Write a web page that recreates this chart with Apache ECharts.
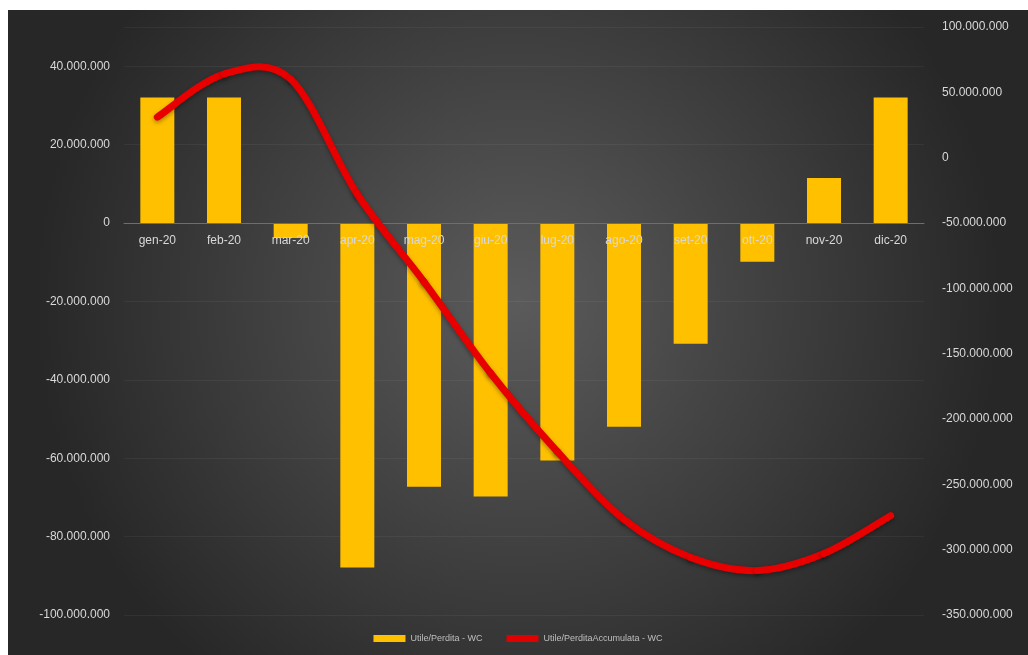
<!DOCTYPE html>
<html>
<head>
<meta charset="utf-8">
<script src="https://cdn.jsdelivr.net/npm/echarts@6/dist/echarts.min.js"></script>
<style>
html,body{margin:0;padding:0;background:#fff;}
#chart{position:absolute;left:8px;top:10px;width:1020px;height:645px;}
</style>
</head>
<body>
<div id="chart"></div>
<script>
var mesi = ['gen-20','feb-20','mar-20','apr-20','mag-20','giu-20','lug-20','ago-20','set-20','ott-20','nov-20','dic-20'];
// Utile/Perdita - WC
var utilePerdita = [32000000, 32000000, -3800000, -87900000, -67300000, -69800000, -60600000, -52000000, -30800000, -9900000, 11500000, 32000000];
// Utile/PerditaAccumulata - WC
var utileAccumulata = [31000000, 64000000, 60000000, -28000000, -95000000, -165000000, -225000000, -277000000, -306000000, -316000000, -303000000, -274000000];

function fmt(v){
    var s = Math.abs(v).toString().replace(/\B(?=(\d{3})+(?!\d))/g, '.');
    return (v < 0 ? '-' : '') + s;
}

// linea smussata stile Excel (Catmull-Rom), punti presi dagli assi
function renderCurva(params, api){
    var i = params.dataIndex;
    var n = utileAccumulata.length;
    if (i >= n - 1) return null;
    var p = function(k){
        k = Math.max(0, Math.min(n - 1, k));
        return api.coord([k, utileAccumulata[k]]);
    };
    var p0 = p(i - 1), p1 = p(i), p2 = p(i + 1), p3 = p(i + 2);
    var t = 6;
    return {
        type: 'bezierCurve',
        shape: {
            x1: p1[0], y1: p1[1],
            x2: p2[0], y2: p2[1],
            cpx1: p1[0] + (p2[0] - p0[0]) / t, cpy1: p1[1] + (p2[1] - p0[1]) / t,
            cpx2: p2[0] - (p3[0] - p1[0]) / t, cpy2: p2[1] - (p3[1] - p1[1]) / t
        },
        style: {
            fill: null,
            stroke: '#e80000',
            lineWidth: 7,
            lineCap: 'round',
            shadowColor: 'rgba(0,0,0,0.35)',
            shadowBlur: 4,
            shadowOffsetY: 2
        }
    };
}

var myChart = echarts.init(document.getElementById('chart'));
var option = {
    backgroundColor: {
        type: 'radial', x: 0.5, y: 0.45, r: 0.75,
        colorStops: [
            {offset: 0, color: '#5b5b5b'},
            {offset: 1, color: '#272727'}
        ]
    },
    textStyle: {fontFamily: 'Liberation Sans, Arial, sans-serif'},
    grid: {left: 116, right: 104, top: 17, bottom: 40},
    legend: {
        bottom: 7,
        left: 'center',
        itemWidth: 32,
        itemHeight: 7,
        itemGap: 24,
        textStyle: {color: '#bfbfbf', fontSize: 9},
        data: [
            {name: 'Utile/Perdita - WC', icon: 'rect'},
            {name: 'Utile/PerditaAccumulata - WC', icon: 'rect', itemStyle: {color: '#e00000'}}
        ]
    },
    xAxis: {
        type: 'category',
        data: mesi,
        z: 2,
        offset: -392,
        axisLine: {onZero: false, lineStyle: {color: '#6e6e6e', width: 1}},
        axisTick: {show: false},
        axisLabel: {color: '#d9d9d9', fontSize: 12, margin: 12}
    },
    yAxis: [
        {
            type: 'value',
            min: -100000000,
            max: 50000000,
            interval: 20000000,
            axisLine: {show: false},
            axisTick: {show: false},
            splitLine: {lineStyle: {color: 'rgba(255,255,255,0.05)'}},
            axisLabel: {
                color: '#d9d9d9', fontSize: 12, margin: 14,
                showMaxLabel: false,
                formatter: function(v){ return v > 40000000 ? '' : fmt(v); }
            }
        },
        {
            type: 'value',
            min: -350000000,
            max: 100000000,
            interval: 50000000,
            position: 'right',
            axisLine: {show: false},
            axisTick: {show: false},
            splitLine: {show: false},
            axisLabel: {color: '#d9d9d9', fontSize: 12, margin: 18, formatter: fmt}
        }
    ],
    series: [
        {
            name: 'Utile/Perdita - WC',
            type: 'bar',
            z: 1,
            barWidth: '51%',
            itemStyle: {color: '#ffc000'},
            data: utilePerdita
        },
        {
            name: 'Utile/PerditaAccumulata - WC',
            type: 'custom',
            yAxisIndex: 1,
            z: 3,
            clip: false,
            itemStyle: {color: '#e00000'},
            encode: {x: 0, y: 1},
            renderItem: renderCurva,
            data: utileAccumulata.map(function(v, i){ return [i, v]; })
        }
    ]
};
myChart.setOption(option);
</script>
</body>
</html>
